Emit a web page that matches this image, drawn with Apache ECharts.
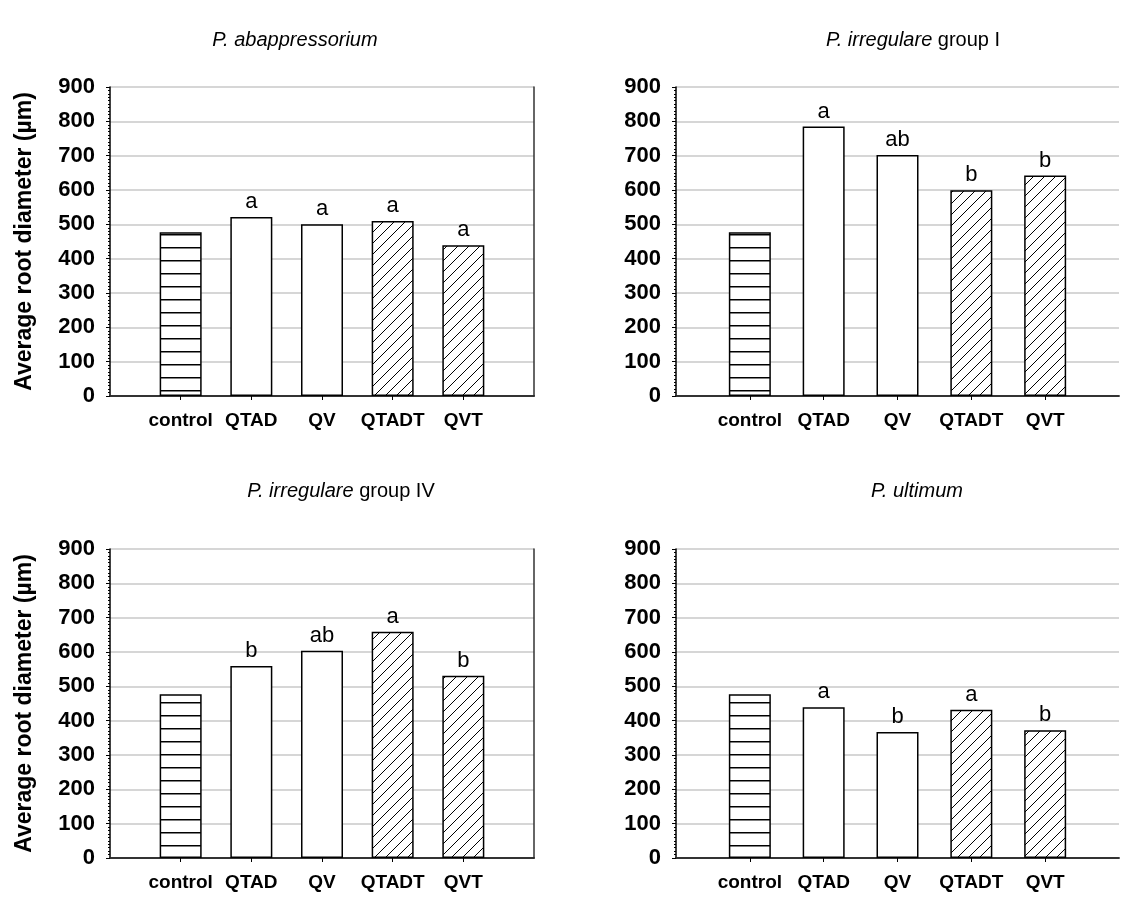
<!DOCTYPE html>
<html>
<head>
<meta charset="utf-8">
<script src="https://cdn.jsdelivr.net/npm/echarts@6/dist/echarts.min.js"></script>
<style>
  html, body { margin: 0; padding: 0; background: #fff; }
  #chart { width: 1122px; height: 902px; }
</style>
</head>
<body>
<div id="chart"></div>
<script>
// Treatments shown on every panel
const categories = ['control', 'QTAD', 'QV', 'QTADT', 'QVT'];

// Average root diameter (µm) per treatment, one array per pathogen
const abappressorium = [477, 521, 500, 510, 439];
const irregulareI = [477, 785, 702, 599, 642];
const irregulareIV = [477, 559, 604, 659, 531];
const ultimum = [477, 439, 367, 432, 372];

// Significance letters written above the bars
const lettersAbappressorium = ['', 'a', 'a', 'a', 'a'];
const lettersIrregulareI = ['', 'a', 'ab', 'b', 'b'];
const lettersIrregulareIV = ['', 'b', 'ab', 'a', 'b'];
const lettersUltimum = ['', 'a', 'b', 'a', 'b'];

// Y-axis tick range
const yMin = 0;
const yMax = 900;
const yStep = 100;

const yName = 'Average root diameter (µm)';
const FONT = '"Liberation Sans", Arial, sans-serif';

// Fill patterns: horizontal stripes for the control, diagonal hatch for the *T treatments
function stripePattern() {
  const c = document.createElement('canvas');
  c.width = 8; c.height = 13;
  const g = c.getContext('2d');
  g.fillStyle = '#fff'; g.fillRect(0, 0, 8, 13);
  g.strokeStyle = '#000'; g.lineWidth = 1.5;
  g.beginPath(); g.moveTo(0, 0.75); g.lineTo(8, 0.75); g.stroke();
  return c;
}
function hatchPattern() {
  const s = 11;
  const c = document.createElement('canvas');
  c.width = s; c.height = s;
  const g = c.getContext('2d');
  g.fillStyle = '#fff'; g.fillRect(0, 0, s, s);
  g.strokeStyle = '#000'; g.lineWidth = 1;
  g.beginPath();
  g.moveTo(-1, s + 1); g.lineTo(s + 1, -1);
  g.moveTo(-2, 2); g.lineTo(2, -2);
  g.moveTo(s - 2, s + 2); g.lineTo(s + 2, s - 2);
  g.stroke();
  return c;
}
const stripes = { image: stripePattern(), repeat: 'repeat' };
const hatch = { image: hatchPattern(), repeat: 'repeat' };
const fills = [stripes, '#fff', '#fff', hatch, hatch];

// Panel placement; the right-hand panels run off the page edge
const panels = [
  { title: '{i|P. abappressorium}', values: abappressorium, letters: lettersAbappressorium,
    left: 110, top: 87, width: 424, cx: 290, ty: 25, showName: true, rightFrame: true },
  { title: '{i|P. irregulare} group I', values: irregulareI, letters: lettersIrregulareI,
    left: 676, top: 87, width: 446, cx: 908, ty: 25, showName: false, rightFrame: false },
  { title: '{i|P. irregulare} group IV', values: irregulareIV, letters: lettersIrregulareIV,
    left: 110, top: 549, width: 424, cx: 336, ty: 476, showName: true, rightFrame: true },
  { title: '{i|P. ultimum}', values: ultimum, letters: lettersUltimum,
    left: 676, top: 549, width: 446, cx: 912, ty: 476, showName: false, rightFrame: false }
];

// Blank slots at both ends keep the bars away from the frame
const axisCats = [''].concat(categories, ['']);

const xAxes = [];
const yAxes = [];
panels.forEach((p, i) => {
  xAxes.push({
    type: 'category',
    gridIndex: i,
    data: axisCats,
    boundaryGap: false,
    axisLine: { lineStyle: { color: '#000', width: 1.5 } },
    axisTick: { length: 4, lineStyle: { color: '#000', width: 1 },
                interval: (idx, v) => v !== '' },
    axisLabel: { interval: 0, fontFamily: FONT, fontSize: 19, fontWeight: 'bold', color: '#000', margin: 15 },
    splitLine: { show: false }
  });
  // top edge of the frame
  xAxes.push({
    type: 'category',
    gridIndex: i,
    position: 'top',
    data: axisCats,
    boundaryGap: false,
    axisLine: { lineStyle: { color: '#333', width: 1.5 } },
    axisTick: { show: false },
    axisLabel: { show: false },
    splitLine: { show: false }
  });
  yAxes.push({
    type: 'value',
    gridIndex: i,
    min: yMin, max: yMax, interval: yStep,
    name: p.showName ? yName : '',
    nameLocation: 'middle',
    nameGap: 74,
    nameTextStyle: { fontFamily: FONT, fontSize: 23, fontWeight: 'bold', color: '#000' },
    axisLine: { show: true, lineStyle: { color: '#000', width: 1.5 } },
    axisTick: { show: true, length: 4, lineStyle: { color: '#000', width: 1 } },
    minorTick: { show: true, splitNumber: 10, length: 2, lineStyle: { color: '#000', width: 1 } },
    axisLabel: { fontFamily: FONT, fontSize: 22, fontWeight: 'bold', color: '#000', margin: 15 },
    splitLine: { show: true, lineStyle: { color: '#c8c8c8', width: 1.5 } }
  });
  // right edge of the frame
  yAxes.push({
    type: 'value',
    gridIndex: i,
    position: 'right',
    min: yMin, max: yMax, interval: yStep,
    axisLine: { show: p.rightFrame, lineStyle: { color: '#333', width: 1.5 } },
    axisTick: { show: false },
    axisLabel: { show: false },
    splitLine: { show: false }
  });
});

const option = {
  backgroundColor: '#fff',
  animation: false,
  title: panels.map(p => ({
    text: p.title,
    left: p.cx,
    top: p.ty,
    textAlign: 'center',
    textStyle: {
      fontFamily: FONT, fontSize: 20, fontWeight: 'normal', color: '#000',
      rich: { i: { fontFamily: FONT, fontSize: 20, fontStyle: 'italic', color: '#000' } }
    }
  })),
  grid: panels.map(p => ({
    left: p.left, top: p.top, width: p.width, height: 309, show: false
  })),
  xAxis: xAxes,
  yAxis: yAxes,
  series: panels.map((p, i) => ({
    type: 'bar',
    xAxisIndex: i * 2,
    yAxisIndex: i * 2,
    barWidth: 42,
    data: [null].concat(p.values.map((v, k) => ({
      value: v,
      itemStyle: { color: fills[k], borderColor: '#000', borderWidth: 1.5 },
      label: {
        show: p.letters[k] !== '',
        position: 'top',
        distance: 4,
        formatter: p.letters[k],
        fontFamily: FONT, fontSize: 22, color: '#000'
      }
    })), [null])
  }))
};

const chart = echarts.init(document.getElementById('chart'), null, { renderer: 'canvas' });
chart.setOption(option);
</script>
</body>
</html>
